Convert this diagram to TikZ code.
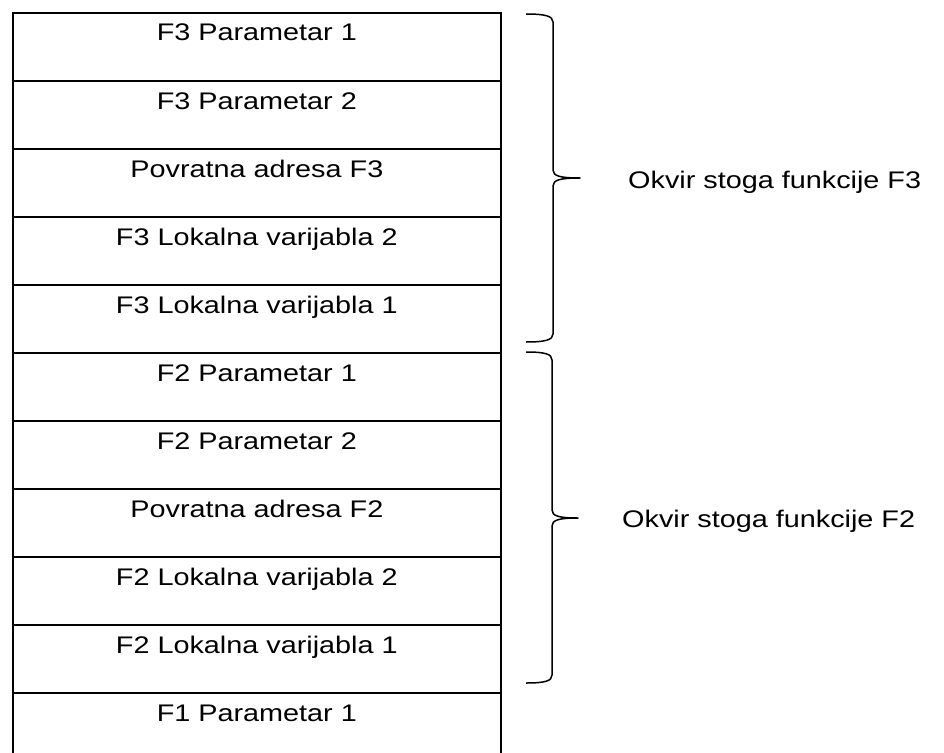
\documentclass[tikz,border=0pt]{standalone}
\usepackage{fontspec}
\setmainfont[FakeStretch=1.2]{Liberation Sans}
\begin{document}
\begin{tikzpicture}[x=1pt,y=-1pt,
  cell/.style={draw=black,line width=1.7pt,minimum width=488pt,minimum height=68pt,inner sep=0pt,anchor=north west},
  txt/.style={anchor=base,inner sep=0pt,font=\fontsize{24}{28}\selectfont},
  lbl/.style={anchor=base west,inner sep=0pt,font=\fontsize{24}{28}\selectfont},
  brace/.style={draw=black,line width=1.5pt,line join=round}]
\useasboundingbox (0,0) rectangle (944,752);
\clip (0,0) rectangle (944,752);
\foreach \i/\t in {1/F3 Parametar 1,2/F3 Parametar 2,3/Povratna adresa F3,4/F3 Lokalna varijabla 2,5/F3 Lokalna varijabla 1,6/F2 Parametar 1,7/F2 Parametar 2,8/Povratna adresa F2,9/F2 Lokalna varijabla 2,10/F2 Lokalna varijabla 1,11/F1 Parametar 1}{
  \node[cell] (r\i) at (12,{12+68*(\i-1)}) {};
  \node[txt] (t\i) at ([yshift=-29pt]r\i.north) {\t};
}
% brace F3
\path[brace] (526,14) .. controls (545,14) and (553,16) .. (553,22) -- (553,170)
  .. controls (553,176) and (560,178) .. (580,178)
  .. controls (560,178) and (553,180) .. (553,186) -- (553,334)
  .. controls (553,340) and (545,342) .. (526,342);
% brace F2
\path[brace] (526,352) .. controls (545,352) and (552,354) .. (552,360) -- (552,510)
  .. controls (552,516) and (559,518) .. (578,518)
  .. controls (559,518) and (552,520) .. (552,526) -- (552,675)
  .. controls (552,681) and (545,683) .. (526,683);
\node[lbl] (l3) at (628,188) {Okvir stoga funkcije F3};
\node[lbl] (l2) at (622,527) {Okvir stoga funkcije F2};
\end{tikzpicture}
\end{document}
